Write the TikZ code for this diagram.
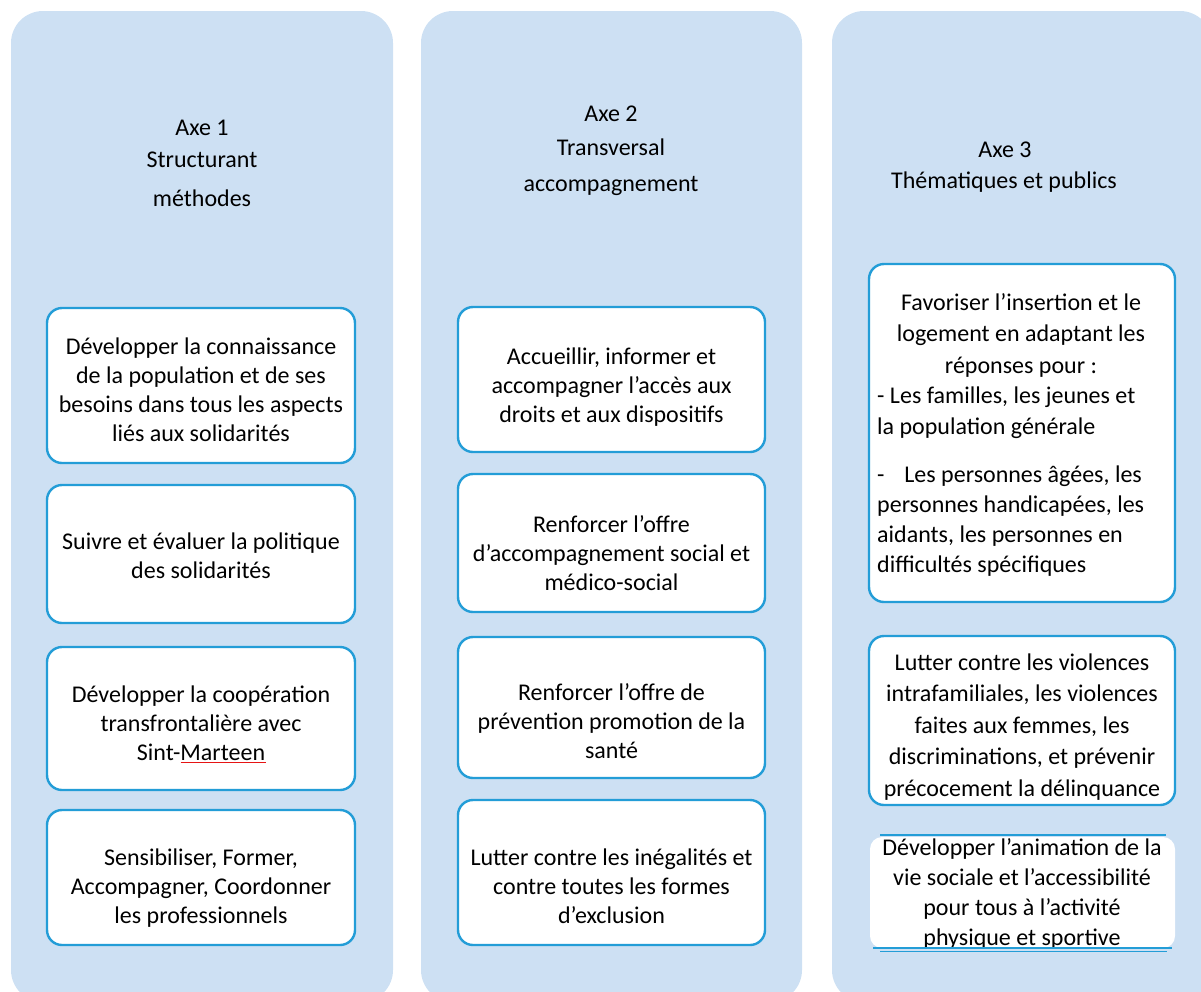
\documentclass[tikz,border=0pt]{standalone}
\usepackage{fontspec}
\setmainfont{Carlito}
\definecolor{colfill}{RGB}{205,224,243}
\definecolor{boxline}{RGB}{35,157,215}
\definecolor{spellred}{RGB}{230,20,20}
\begin{document}
\begin{tikzpicture}[x=1pt,y=-1pt,
  colbg/.style={fill=colfill, rounded corners=32pt},
  wbox/.style={draw=boxline, line width=2.4pt, fill=white, rounded corners=15pt, inner sep=0pt},
  plainbox/.style={fill=white, rounded corners=12pt, inner sep=0pt},
  txt/.style={align=center, inner sep=0pt, font=\fontsize{24}{29}\selectfont},
  ltxt/.style={align=left, inner sep=0pt, font=\fontsize{24}{30}\selectfont},
  hd/.style={inner sep=0pt, font=\fontsize{24}{29}\selectfont},
  rule/.style={draw=boxline, line width=1.6pt},
  spell/.style={draw=spellred, line width=1.6pt}]
\useasboundingbox (0,0) rectangle (1201,991);
% columns
\path[colbg] (11,11) rectangle (393,1002);
\path[colbg] (421,11) rectangle (802,1002);
\path[colbg] (832,11) rectangle (1212,1002);
% headers
\node[hd] (h1a) at (202,128) {Axe 1};
\node[hd] (h1b) at (202,160) {Structurant};
\node[hd] (h1c) at (202,198) {méthodes};
\node[hd] (h2a) at (611,114) {Axe 2};
\node[hd] (h2b) at (611,147) {Transversal};
\node[hd] (h2c) at (611,186) {accompagnement};
\node[hd] (h3a) at (1005,150) {Axe 3};
\node[hd] (h3b) at (1004,182) {Thématiques et publics};
% column 1
\node[wbox, minimum width=308pt, minimum height=155pt] (b1) at (201,385.5) {};
\node[wbox, minimum width=308pt, minimum height=138pt] (b2) at (201,554) {};
\node[wbox, minimum width=308pt, minimum height=143pt] (b3) at (201,718.5) {};
\node[wbox, minimum width=308pt, minimum height=135pt] (b4) at (201,877.5) {};
\node[txt] (tb1) at (201,390) {Développer la connaissance\\de la population et de ses\\besoins dans tous les aspects\\liés aux solidarités};
\node[txt] (tb2) at (201,556) {Suivre et évaluer la politique\\des solidarités};
\node[txt] (tb3) at (201,723) {Développer la coopération\\transfrontalière avec\\Sint-Marteen};
\coordinate (ulA) at (180.5,762.5);
\coordinate (ulB) at (265.5,762.5);
\draw[spell] (ulA) -- (ulB);
\node[txt] (tb4) at (201,888) {Sensibiliser, Former,\\Accompagner, Coordonner\\les professionnels};
% column 2
\node[wbox, minimum width=307pt, minimum height=145pt] (c1) at (611.5,379.5) {};
\node[wbox, minimum width=307pt, minimum height=138pt] (c2) at (611.5,543) {};
\node[wbox, minimum width=307pt, minimum height=141pt] (c3) at (611.5,707.5) {};
\node[wbox, minimum width=307pt, minimum height=145pt] (c4) at (611.5,872.5) {};
\node[txt] (tc1) at (611.5,387) {Accueillir, informer et\\accompagner l’accès aux\\droits et aux dispositifs};
\node[txt] (tc2) at (611.5,553) {Renforcer l’offre\\d’accompagnement social et\\médico-social};
\node[txt] (tc3) at (611.5,721) {Renforcer l’offre de\\prévention promotion de la\\santé};
\node[txt] (tc4) at (611.5,886) {Lutter contre les inégalités et\\contre toutes les formes\\d’exclusion};
% column 3
\node[wbox, minimum width=306pt, minimum height=338pt] (d1) at (1022,433) {};
\node[wbox, minimum width=306pt, minimum height=169pt] (d2) at (1022,720.5) {};
\node[plainbox, minimum width=305pt, minimum height=111pt] (d3) at (1022.5,892.5) {};
\node[txt, font=\fontsize{24}{31.5}\selectfont] (td1a) at (1021,335) {Favoriser l’insertion et le\\logement en adaptant les\\réponses pour :};
\node[ltxt, font=\fontsize{24}{31}\selectfont, anchor=west] (td1b) at (877,413) {- Les familles, les jeunes et\\la population générale};
\node[ltxt, anchor=west] (td1c) at (877,521) {-\hspace{0.6em} Les personnes âgées, les\\personnes handicapées, les\\aidants, les personnes en\\difficultés spécifiques};
\node[txt, font=\fontsize{24}{31.5}\selectfont] (td2) at (1022,727) {Lutter contre les violences\\intrafamiliales, les violences\\faites aux femmes, les\\discriminations, et prévenir\\précocement la délinquance};
\node[txt, font=\fontsize{24}{29.7}\selectfont] (td3) at (1022,894) {Développer l’animation de la\\vie sociale et l’accessibilité\\pour tous à l’activité\\physique et sportive};
\draw[rule] (880,835) -- (1166,835);
\draw[rule] (873,948) -- (1172,948);
\draw[rule] (880,951.5) -- (1167,951.5);
\end{tikzpicture}
\end{document}
